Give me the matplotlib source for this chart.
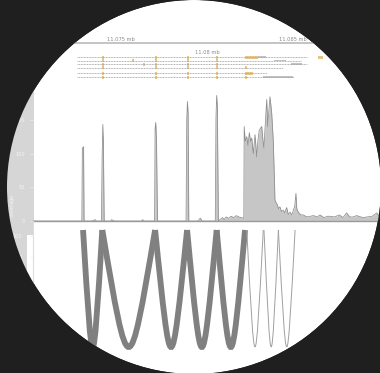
import matplotlib
matplotlib.use("Agg")
import matplotlib.pyplot as plt
import matplotlib.transforms as mtransforms
from matplotlib.patches import Rectangle, PathPatch
from matplotlib.path import Path

# ---------------- data ----------------
ruler_ticks = [11075, 11085]
ruler_labels = ["11.075 mb", "11.085 mb"]
mid_tick = 11080
mid_label = "11.08 mb"

# transcripts (kb)
tx_start = [11072.44, 11072.44, 11072.44, 11072.44, 11072.44, 11072.44]
tx_end = [11085.81, 11085.45, 11085.81, 11084.40, 11083.50, 11085.05]
# exon features: transcript index, start, end, kind (cds / utr)
feat_tx = [0, 0, 0, 0, 0, 0, 0,
           1, 1, 1, 1, 1, 1,
           2, 2, 2, 2, 2, 2,
           3, 3, 3, 3, 3,
           4, 4, 4, 4, 4,
           5, 5, 5, 5, 5, 5]
feat_start = [11073.90, 11076.98, 11078.84, 11080.52, 11082.20, 11082.95, 11086.45,
              11073.90, 11075.66, 11076.98, 11078.84, 11080.52, 11083.90,
              11073.90, 11076.27, 11076.98, 11078.84, 11080.52, 11084.90,
              11073.90, 11076.98, 11078.84, 11080.52, 11082.20,
              11073.90, 11076.98, 11078.84, 11080.52, 11082.20,
              11073.90, 11076.98, 11078.84, 11080.52, 11082.20, 11083.26]
feat_end = [11074.02, 11077.10, 11078.96, 11080.64, 11082.95, 11083.40, 11086.74,
            11074.02, 11075.76, 11077.10, 11078.96, 11080.64, 11084.60,
            11074.02, 11076.37, 11077.10, 11078.96, 11080.64, 11085.50,
            11074.02, 11077.10, 11078.96, 11080.64, 11082.35,
            11074.02, 11077.10, 11078.96, 11080.64, 11082.65,
            11074.02, 11077.10, 11078.96, 11080.64, 11082.35, 11085.00]
feat_kind = ["cds", "cds", "cds", "cds", "cds", "utr", "cds",
             "cds", "cds", "cds", "cds", "cds", "utr",
             "cds", "cds", "cds", "cds", "cds", "utr",
             "cds", "cds", "cds", "cds", "cds",
             "cds", "cds", "cds", "cds", "cds",
             "cds", "cds", "cds", "cds", "cds", "utr"]

# coverage (position kb, depth)
cov_pos = [11069.88, 11071.5, 11072.72, 11072.75, 11072.82, 11072.85, 11073.3, 11073.5, 11073.55,
           11073.86, 11073.90, 11073.94, 11073.97, 11074.02, 11074.06, 11074.4, 11074.45, 11074.6,
           11076.2, 11076.25, 11076.35, 11076.95, 11076.98, 11077.02, 11077.06, 11077.12,
           11078.78, 11078.82, 11078.86, 11078.90, 11078.94, 11079.5, 11079.55, 11079.62, 11079.7,
           11080.48, 11080.52, 11080.56, 11080.60, 11080.66, 11080.8, 11080.9, 11081.0, 11081.1,
           11081.25, 11081.4, 11081.55, 11081.7, 11081.85, 11082.0, 11082.14,
           11082.16, 11082.22, 11082.31, 11082.38, 11082.46, 11082.53, 11082.60, 11082.69, 11082.79,
           11082.89, 11082.96, 11083.04, 11083.18, 11083.25, 11083.31, 11083.40, 11083.47, 11083.53,
           11083.56, 11083.66, 11083.72, 11083.76, 11083.85, 11083.92, 11083.95, 11084.00, 11084.09,
           11084.16, 11084.24, 11084.33, 11084.44, 11084.52, 11084.63, 11084.72, 11084.83, 11084.93,
           11085.02, 11085.10, 11085.17, 11085.22, 11085.31, 11085.45, 11085.60, 11085.80, 11085.99,
           11086.2, 11086.4, 11086.57, 11086.8, 11087.0, 11087.15, 11087.4, 11087.7, 11087.9,
           11088.12, 11088.3, 11088.49, 11088.7, 11089.07, 11089.3, 11089.6, 11089.87, 11090.0]
cov_val = [0, 0, 0, 108, 110, 0, 0, 2, 0,
           0, 95, 143, 120, 0, 0, 0, 2, 0,
           0, 2, 0, 0, 137, 146, 120, 0,
           0, 150, 177, 160, 0, 0, 3, 4, 0,
           0, 153, 186, 170, 0, 3, 5, 2, 6,
           4, 7, 5, 8, 6, 5, 4,
           140, 118, 125, 112, 131, 118, 123, 100, 128,
           95, 120, 135, 140, 120, 108, 150, 180, 140,
           152, 184, 170, 160, 120, 60, 31, 28, 24,
           18, 21, 14, 16, 12, 20, 10, 13, 9,
           16, 22, 41, 18, 13, 9, 9, 6, 7,
           8, 6, 9, 5, 7, 7, 6, 9, 5,
           12, 6, 6, 8, 5, 6, 7, 12, 8]

# splice junctions (kb) and read counts
junc_start = [11072.79, 11073.91, 11076.98, 11078.84, 11080.56, 11082.31, 11083.31, 11084.15]
junc_end = [11073.91, 11076.98, 11078.84, 11080.56, 11082.21, 11083.27, 11084.15, 11085.12]
junc_count = [120, 120, 120, 120, 120, 15, 15, 15]

cov_ticks = [0, 50, 100, 150]
arc_tick_labels = ["100", "0"]
ylabel_text = "coverage"

# ---------------- layout ----------------
W, H = 380, 373
DPI = 100
BG = "#1f1f1f"
fig = plt.figure(figsize=(W / DPI, H / DPI), dpi=DPI, facecolor=BG)
px = mtransforms.Affine2D().scale(1, -1).translate(0, H)


def frect(x0, y0, x1, y1):
    return [x0 / W, 1 - y1 / H, (x1 - x0) / W, (y1 - y0) / H]


CX, CY, R = 194, 187, 187
circ_bg = PathPatch(Path.circle((CX, CY), R), transform=px, facecolor="white",
                    edgecolor="none", zorder=-5)
fig.add_artist(circ_bg)
band = Rectangle((0, 85), 34, H - 85, transform=px, facecolor="#d6d6d6",
                 edgecolor="none", zorder=-4)
fig.add_artist(band)
strip = Rectangle((27, 235), 6, H - 235, transform=px, facecolor="white",
                  edgecolor="none", zorder=-3)
fig.add_artist(strip)
fig.text(12 / W, 1 - 205 / H, ylabel_text, rotation=90, fontsize=3.6,
         color="#f4f4f4", ha="center", va="center")

XL = (11069.88, 11090.0)

# gene / ruler panel (data y = pixel y)
axg = fig.add_axes(frect(33, 30, 379, 86))
axg.set_xlim(*XL)
axg.set_ylim(86, 30)
axg.axis("off")
axg.plot(XL, [43, 43], color="#c4c4c4", lw=1.4, solid_capstyle="butt")
for t, lab in zip(ruler_ticks, ruler_labels):
    axg.text(t, 39.5, lab, ha="center", va="center", fontsize=3.7, color="#8a8a8a")
axg.text(mid_tick, 52.5, mid_label, ha="center", va="center", fontsize=3.7, color="#8a8a8a")

row_y = [57, 60.5, 64, 67.5, 73, 77]
for i, (s, e) in enumerate(zip(tx_start, tx_end)):
    axg.plot([s, e], [row_y[i], row_y[i]], color="#a5a5a5", lw=0.6,
             linestyle=(0, (1.2, 0.7)))
for t, s, e, k in zip(feat_tx, feat_start, feat_end, feat_kind):
    if k == "cds":
        axg.add_patch(Rectangle((s, row_y[t] - 1.5), e - s, 3.0, facecolor="#e6c48a",
                                edgecolor="none"))
    else:
        axg.add_patch(Rectangle((s, row_y[t] - 0.9), e - s, 1.8, facecolor="#c2c2c2",
                                edgecolor="none"))

# coverage panel
axc = fig.add_axes(frect(33, 86, 379, 221))
axc.set_facecolor("none")
axc.set_xlim(*XL)
axc.set_ylim(0, 200)
axc.fill_between(cov_pos, cov_val, 0, color="#c6c6c6", lw=0)
axc.plot(cov_pos, cov_val, color="#8c8c8c", lw=0.55)
for sp in ["top", "right"]:
    axc.spines[sp].set_visible(False)
axc.spines["left"].set_visible(False)
axc.spines["bottom"].set_color("#9a9a9a")
axc.spines["bottom"].set_linewidth(1.0)
axc.set_xticks([])
axc.set_yticks(cov_ticks)
axc.set_yticklabels([str(v) for v in cov_ticks])
axc.tick_params(axis="y", length=2, width=0.5, color="#eeeeee", labelsize=3.6,
                labelcolor="#f4f4f4", pad=4)

# sashimi arc panel (data y = -pixel offset from 221)
axa = fig.add_axes(frect(33, 221, 379, 373))
axa.set_facecolor("none")
axa.set_xlim(*XL)
axa.set_ylim(-152, 0)
for sp in ["top", "right", "bottom"]:
    axa.spines[sp].set_visible(False)
axa.spines["left"].set_color("#dddddd")
axa.spines["left"].set_linewidth(0.8)
axa.set_xticks([])
axa.set_yticks([-15, -36])
axa.set_yticklabels(arc_tick_labels)
axa.tick_params(axis="y", length=2, width=0.5, color="#eeeeee", labelsize=3.6,
                labelcolor="#f4f4f4", pad=6)

ARC_TOP = -9
ARC_H = 156
for s, e, c in zip(junc_start, junc_end, junc_count):
    m = (s + e) / 2
    verts = [(s, ARC_TOP), (m, ARC_TOP - ARC_H), (m, ARC_TOP - ARC_H), (e, ARC_TOP)]
    codes = [Path.MOVETO, Path.CURVE4, Path.CURVE4, Path.CURVE4]
    thick = c >= 50
    axa.add_patch(PathPatch(Path(verts, codes), facecolor="none",
                            edgecolor="#808080" if thick else "#a0a0a0",
                            lw=4.2 if thick else 0.7, capstyle="butt"))

# circular mask
rect = Path([(0, 0), (0, H), (W, H), (W, 0), (0, 0)],
            [Path.MOVETO, Path.LINETO, Path.LINETO, Path.LINETO, Path.CLOSEPOLY])
mask = Path.make_compound_path(rect, Path.circle((CX, CY), R))
fig.add_artist(PathPatch(mask, transform=px, facecolor=BG, edgecolor="none", zorder=100))

fig.savefig("out.png", dpi=DPI, facecolor=BG)
